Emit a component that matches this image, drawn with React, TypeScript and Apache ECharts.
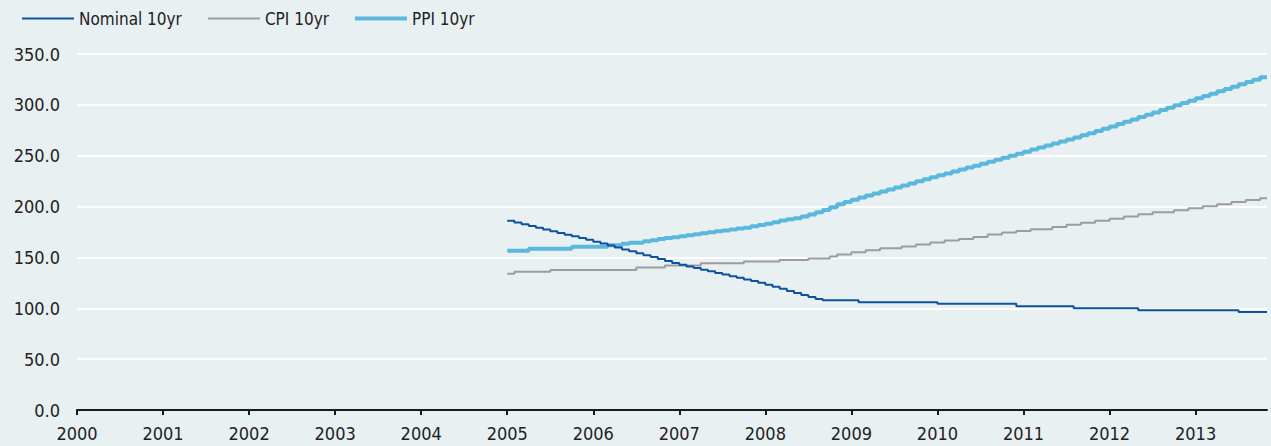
import React, { useEffect, useRef } from "react";
import * as echarts from "echarts";

// Monthly observations from Jan 2005 (index 0) to Oct 2013
const startYear = 2005;
const endDate = 2013.83;
const xTickYears = [2000, 2001, 2002, 2003, 2004, 2005, 2006, 2007, 2008, 2009, 2010, 2011, 2012, 2013];

const nominal10yr = [
  186, 184.3, 182.6, 180.9, 179.2, 177.5, 175.8, 174.1, 172.4, 170.7, 169, 167.3,
  165.5, 163.6, 161.7, 159.8, 157.9, 156, 154.1, 152.2, 150.3, 148.4, 146.5, 144.6,
  142.8, 141.2, 139.6, 138, 136.4, 134.8, 133.2, 131.6, 130, 128.4, 126.8, 125.2,
  123.1, 121.1, 119.1, 117.1, 115.1, 113.1, 111.1, 109.1, 108, 108, 108, 108,
  108, 106, 106, 106, 106, 106, 106, 106, 106, 106, 106, 106,
  104.5, 104.5, 104.5, 104.5, 104.5, 104.5, 104.5, 104.5, 104.5, 104.5, 104.5, 102,
  102, 102, 102, 102, 102, 102, 102, 100, 100, 100, 100, 100,
  100, 100, 100, 100, 98, 98, 98, 98, 98, 98, 98, 98,
  98, 98, 98, 98, 98, 98, 96.4, 96.4, 96.4, 96.4,
];

const cpi10yr = [
  134, 136, 136, 136, 136, 136, 137.6, 137.6, 137.6, 137.6, 137.6, 137.6,
  137.6, 137.6, 137.6, 137.6, 137.6, 137.6, 140, 140, 140, 140, 142, 142,
  142, 142, 142, 144.3, 144.3, 144.3, 144.3, 144.3, 144.3, 146, 146, 146,
  146, 146, 147.5, 147.5, 147.5, 147.5, 149, 149, 149, 151, 153, 153,
  155, 155, 157, 157, 159, 159, 159, 160.7, 160.7, 162.6, 162.6, 164.6,
  164.6, 166.6, 166.6, 168.2, 168.2, 170.2, 170.2, 172.5, 172.5, 174.4, 174.4, 176.1,
  176.1, 177.8, 177.8, 177.8, 179.8, 179.8, 182.2, 182.2, 184.1, 184.1, 186.1, 186.1,
  188.1, 188.1, 190.2, 190.2, 192.5, 192.5, 194.4, 194.4, 194.4, 196.4, 196.4, 198.4,
  198.4, 200.4, 200.4, 202.4, 202.4, 204.5, 204.5, 206.5, 206.5, 208.1,
];

const ppi10yr = [
  156.5, 156.5, 156.5, 158.5, 158.5, 158.5, 158.5, 158.5, 158.5, 160.6, 160.6, 160.6,
  160.6, 160.6, 162, 162, 163.5, 164.5, 164.5, 165.8, 167, 168, 169, 169.8,
  170.8, 171.7, 172.7, 173.7, 174.7, 175.7, 176.5, 177.4, 178.4, 179.3, 180.6, 182,
  183, 184.5, 186.3, 187.5, 188.5, 190.3, 192.3, 194.4, 196.7, 199.3, 202.3, 204.5,
  206.7, 208.8, 210.8, 212.8, 214.8, 216.8, 218.8, 220.8, 222.8, 224.8, 226.8, 228.8,
  230.7, 232.6, 234.5, 236.4, 238.3, 240.2, 242.1, 244, 246, 248, 250, 252,
  254, 256, 258, 260, 262, 264, 266, 268, 270, 272.2, 274.4, 276.6,
  278.8, 281.1, 283.4, 285.7, 288, 290.3, 292.6, 294.9, 297.2, 299.5, 301.8, 304.1,
  306.4, 308.7, 311, 313.3, 315.6, 317.9, 320.2, 322.5, 324.8, 327.2,
];

const seriesNames = ["Nominal 10yr", "CPI 10yr", "PPI 10yr"];

function toPoints(values: number[]): [number, number][] {
  const pts: [number, number][] = values.map((v, i) => [startYear + i / 12, v]);
  pts.push([endDate, values[values.length - 1]]);
  return pts;
}

const FONT = "'Liberation Sans Narrow', 'DejaVu Sans Condensed', sans-serif";
const BG = "#e8f0f2";
const THIN_ICON = "path://M0,0 H52 V2 H0 Z";
const THICK_ICON = "path://M0,0 H52 V4 H0 Z";

export default function App() {
  const ref = useRef<HTMLDivElement>(null);

  useEffect(() => {
    if (!ref.current) return;
    const chart = echarts.init(ref.current, undefined, { renderer: "svg" });
    chart.setOption({
      animation: false,
      backgroundColor: BG,
      textStyle: { fontFamily: FONT },
      legend: {
        data: [
          { name: seriesNames[0], icon: THIN_ICON },
          { name: seriesNames[1], icon: THIN_ICON },
          { name: seriesNames[2], icon: THICK_ICON },
        ],
        left: 22,
        top: 10,
        padding: 0,
        itemWidth: 52,
        itemHeight: 14,
        itemGap: 26,
        symbolKeepAspect: true,
        textStyle: { fontFamily: FONT, fontSize: 17, color: "#222", padding: [3, 0, 0, 0] },
      },
      grid: { left: 77, right: 4, top: 54, bottom: 36, containLabel: false },
      xAxis: {
        type: "value",
        min: 2000,
        max: endDate,
        interval: 1,
        axisLine: { show: true, onZero: false, lineStyle: { color: "#1a1a1a", width: 2 } },
        axisTick: { show: true, length: 5, customValues: xTickYears, lineStyle: { color: "#1a1a1a", width: 2 } },
        axisLabel: {
          customValues: xTickYears,
          formatter: (v: number) => String(Math.round(v)),
          fontFamily: FONT,
          fontSize: 18,
          color: "#222",
          margin: 14,
        },
        splitLine: { show: false },
      },
      yAxis: {
        type: "value",
        min: 0,
        max: 350,
        interval: 50,
        axisLine: { show: false },
        axisTick: { show: false },
        axisLabel: {
          formatter: (v: number) => v.toFixed(1),
          fontFamily: FONT,
          fontSize: 18,
          color: "#222",
          margin: 17,
          padding: [4, 0, 0, 0],
        },
        splitLine: { show: true, lineStyle: { color: "#ffffff", width: 2 } },
      },
      series: [
        {
          name: "PPI 10yr",
          type: "line",
          step: "end",
          symbol: "none",
          data: toPoints(ppi10yr),
          lineStyle: { color: "#5ab8dc", width: 4 },
          itemStyle: { color: "#5ab8dc" },
          z: 2,
        },
        {
          name: "CPI 10yr",
          type: "line",
          step: "end",
          symbol: "none",
          data: toPoints(cpi10yr),
          lineStyle: { color: "#9d9d9d", width: 2 },
          itemStyle: { color: "#9d9d9d" },
          z: 3,
        },
        {
          name: "Nominal 10yr",
          type: "line",
          step: "end",
          symbol: "none",
          data: toPoints(nominal10yr),
          lineStyle: { color: "#0d52a0", width: 2 },
          itemStyle: { color: "#0d52a0" },
          z: 4,
        },
      ],
    });
    return () => chart.dispose();
  }, []);

  return (
    <div
      ref={ref}
      style={{ position: "fixed", left: 0, top: 0, width: 1271, height: 446, background: BG }}
    />
  );
}
